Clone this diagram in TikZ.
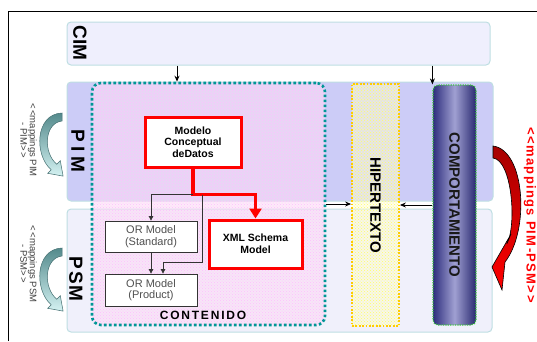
\documentclass[tikz,border=0pt]{standalone}
\usepackage{fontspec}
\setmainfont{Liberation Sans}
\usepackage{graphicx}
\usetikzlibrary{arrows.meta, positioning, calc, patterns}
\definecolor{bandline}{RGB}{190,222,226}
\definecolor{cimfill}{RGB}{239,239,253}
\definecolor{pimfill}{RGB}{204,204,247}
\definecolor{psmfill}{RGB}{240,240,251}
\definecolor{contteal}{RGB}{0,150,150}
\definecolor{contpink}{RGB}{252,222,245}
\definecolor{hipyellow}{RGB}{255,204,0}
\definecolor{compnavy}{RGB}{46,46,125}
\definecolor{complight}{RGB}{160,160,210}
\definecolor{compgreen}{RGB}{60,200,60}
\definecolor{mapteal}{RGB}{84,138,140}
\definecolor{mapcyan}{RGB}{212,242,242}
\definecolor{boxgray}{RGB}{80,80,80}

\begin{document}
\begin{tikzpicture}[x=1pt, y=-1pt,
    band/.style={rounded corners=4pt, draw=bandline, line width=1pt, inner sep=0pt},
    bandlabel/.style={rotate=-90, font=\fontsize{19}{19}\selectfont\bfseries},
    contbox/.style={draw=contteal, line width=2.6pt, dash pattern=on 2.6pt off 2.4pt,
        rounded corners=9pt, minimum width=233pt, minimum height=242pt,
        pattern=crosshatch dots, pattern color=magenta!25,
        preaction={fill=contpink, fill opacity=0.6}},
    hipbox/.style={draw=hipyellow, line width=1.8pt, dash pattern=on 1.8pt off 1.6pt,
        minimum width=47pt, minimum height=242pt, inner sep=0pt,
        pattern=crosshatch dots, pattern color=yellow!60,
        preaction={fill=yellow!15!white, fill opacity=0.5},
        font=\fontsize{15}{15}\selectfont\bfseries},
    compbox/.style={draw=compgreen, line width=1.2pt, dash pattern=on 1.2pt off 1.2pt,
        rounded corners=5pt, minimum width=43pt, minimum height=240pt, inner sep=0pt,
        left color=compnavy, right color=compnavy!90!black, middle color=complight,
        text=black!90, font=\fontsize{15}{15}\selectfont\bfseries},
    redbox/.style={draw=red, line width=3pt, fill=white, align=center, inner sep=0pt,
        font=\fontsize{10.5}{11.7}\selectfont\bfseries},
    orbox/.style={draw=black!80, line width=0.8pt, fill=white, align=center,
        minimum width=92pt, minimum height=31pt, inner sep=0pt, text=boxgray,
        font=\fontsize{11}{11.7}\selectfont},
    maptext/.style={rotate=-90, align=center, text=black!75,
        font=\fontsize{9.5}{9.5}\selectfont},
    arrow/.style={-{Stealth[length=6pt,width=5pt]}, line width=1pt},
    thinarrow/.style={-{Triangle[length=4.5pt,width=4.5pt]}, line width=0.7pt, black!80},
    redarrow/.style={-{Triangle[length=10pt,width=12pt]}, line width=3.5pt, red},
    mapcurve/.pic={
        \shade[top color=mapteal, bottom color=mapcyan, draw=mapteal!80!black, line width=0.5pt]
            (0,0) .. controls (-27,1) and (-28,42) .. (-10.8,56.8) -- (-14.3,60.3)
            -- (1.1,63.1) -- (-1.7,47.7) -- (-5.2,51.2)
            .. controls (-19,40) and (-18,10) .. (0,8) -- cycle;
    }
]
\useasboundingbox (0,0) rectangle (537,341);

% frame
\draw[line width=1pt] (8,341) -- (8,11.5) -- (537,11.5);

% levels
\node[band, fill=cimfill, minimum width=423pt, minimum height=43pt] (cim) at (278.5,43.5) {};
\node[band, fill=pimfill, minimum width=426pt, minimum height=119pt] (pim) at (280,141.5) {};
\node[band, fill=psmfill, minimum width=425pt, minimum height=123pt] (psm) at (279.5,270.5) {};
\node[bandlabel] (cimlabel) at (80,43) {CIM};
\node[bandlabel] (pimlabel) at (78,151) {\addfontfeatures{LetterSpace=25}PIM};
\node[bandlabel] (psmlabel) at (76,279) {\addfontfeatures{LetterSpace=8}PSM};

% columns
\node[contbox] (contenido) at (208.5,204) {};
\node[hipbox] (hiper) at (375.5,205) {\rotatebox{-90}{HIPERTEXTO}};
\node[compbox] (comp) at (454.5,205) {\rotatebox{-90}{COMPORTAMIENTO}};
\node[font=\fontsize{12}{12}\selectfont\bfseries] (contlabel) at (203,315)
    {\addfontfeatures{LetterSpace=15}CONTENIDO};

% models
\node[redbox, minimum width=96pt, minimum height=50pt] (modelo) at (193,142)
    {Modelo\\Conceptual\\deDatos};
\node[redbox, minimum width=93pt, minimum height=48pt] (xml) at (255.5,244)
    {XML Schema\\Model};
\node[orbox] (standard) at (151,236.5) {OR Model\\(Standard)};
\node[orbox, minimum height=32pt] (product) at (151,290) {OR Model\\(Product)};

\draw[redarrow] (modelo.south) -- ++(0,26) -| (xml.north);
\draw[thinarrow] ([yshift=-26pt]modelo.south) -| (standard.north);
\draw[thinarrow] ([xshift=9pt,yshift=-26pt]modelo.south) -- ++(0,68) -| ([xshift=12pt]product.north);
\draw[thinarrow] (standard) -- (product);

% level arrows
\draw[arrow] ([xshift=-31.5pt]contenido.north |- cim.south) -- ([xshift=-31.5pt]contenido.north);
\draw[arrow] (comp.north west |- cim.south) -- (comp.north west);
\draw[arrow] (contenido.east) -- (contenido.east -| hiper.west);
\draw[arrow] (comp.west) -- (comp.west -| hiper.east);

% mappings
\pic at (62,113) {mapcurve};
\pic at (62,248) {mapcurve};
\node[maptext] (mappim) at (28.5,140) {<\kern1.5pt<mappings PIM\\- PIM>\kern1.5pt>};
\node[maptext] (mappsm) at (28.5,264) {<\kern1.5pt<mappings PSM\\- PSM>\kern1.5pt>};

\shade[top color=red!65!black, bottom color=red, draw=black, line width=0.6pt]
    (493,146) .. controls (525,150) and (530,230) .. (505,262) -- (502,290)
    -- (492,267) -- (511,234) -- (506.8,244)
    .. controls (517,225) and (512,160) .. (493,158) -- cycle;
\node[rotate=-90, text=red, font=\fontsize{13}{13}\selectfont\bfseries] (mapred) at (530,215)
    {\addfontfeatures{LetterSpace=10}<\kern2pt<mappings PIM-PSM>\kern2pt>};

\end{tikzpicture}
\end{document}
